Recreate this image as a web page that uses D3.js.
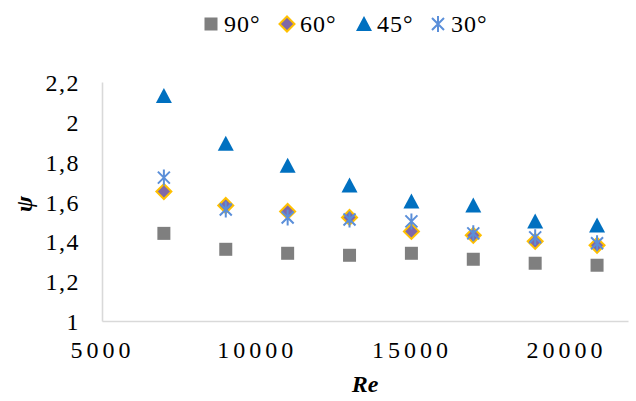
<!DOCTYPE html>
<html>
<head>
<meta charset="utf-8">
<script src="https://cdn.jsdelivr.net/npm/d3@7"></script>
<style>
  html, body { margin: 0; padding: 0; background: #fff; }
  svg { display: block; }
</style>
</head>
<body>
<svg id="chart" width="636" height="401"></svg>
<script>
// Reynolds numbers on the horizontal axis
const reValues = [7000, 9000, 11000, 13000, 15000, 17000, 19000, 21000];

// ψ for each inclination angle
const psi90 = [1.44, 1.36, 1.34, 1.33, 1.34, 1.31, 1.29, 1.28];
const psi60 = [1.65, 1.58, 1.55, 1.52, 1.45, 1.43, 1.40, 1.38];
const psi45 = [2.13, 1.89, 1.78, 1.68, 1.60, 1.58, 1.50, 1.48];
const psi30 = [1.72, 1.56, 1.52, 1.51, 1.50, 1.44, 1.42, 1.39];

const seriesNames = ["90°", "60°", "45°", "30°"];

// Axis ticks
const xTicks = [5000, 10000, 15000, 20000];
const yTicks = [1, 1.2, 1.4, 1.6, 1.8, 2, 2.2];

const series = [
  { name: seriesNames[0], values: psi90, shape: "square" },
  { name: seriesNames[1], values: psi60, shape: "diamond" },
  { name: seriesNames[2], values: psi45, shape: "triangle" },
  { name: seriesNames[3], values: psi30, shape: "star" }
];

const FONT = "'Liberation Serif', 'Times New Roman', Tinos, Times, serif";

const svg = d3.select("#chart");

const x = d3.scaleLinear().domain([5000, 22000]).range([102, 628]);
const y = d3.scaleLinear().domain([1, 2.2]).range([321, 82]);

const commaLocale = d3.formatLocale({ decimal: ",", thousands: "", grouping: [3], currency: ["", ""] });
const yFmt = commaLocale.format(".1~f");
const xFmt = d3.format("d");

// Axes
const xAxis = svg.append("g")
  .attr("transform", `translate(0,${y(1)})`)
  .call(d3.axisBottom(x).tickValues(xTicks).tickSize(0).tickPadding(0).tickFormat(xFmt));
xAxis.attr("font-family", null).attr("font-size", null);
xAxis.select(".domain").attr("stroke", "#d9d9d9").attr("stroke-width", 1.6);
xAxis.selectAll("text")
  .attr("dy", null)
  .attr("y", 37)
  .style("font-family", FONT)
  .style("font-size", "24px")
  .style("letter-spacing", "4px");

const yAxis = svg.append("g")
  .attr("transform", `translate(${x(5000)},0)`)
  .call(d3.axisLeft(y).tickValues(yTicks).tickSize(0).tickPadding(0).tickFormat(yFmt));
yAxis.attr("font-family", null).attr("font-size", null);
yAxis.select(".domain").attr("stroke", "#d9d9d9").attr("stroke-width", 1.6);
yAxis.selectAll("text")
  .attr("x", -22)
  .attr("dy", "0.36em")
  .style("font-family", FONT)
  .style("font-size", "24px")
  .style("letter-spacing", "1.5px");

// Axis titles
svg.append("text")
  .attr("transform", `translate(32,204) rotate(-90)`)
  .attr("text-anchor", "middle")
  .style("font-family", FONT)
  .style("font-size", "24px")
  .style("font-weight", "bold")
  .style("font-style", "italic")
  .text("ψ");

svg.append("text")
  .attr("x", (x(5000) + x(22000)) / 2)
  .attr("y", 392)
  .attr("text-anchor", "middle")
  .style("font-family", FONT)
  .style("font-size", "24px")
  .style("font-weight", "bold")
  .style("font-style", "italic")
  .text("Re");

// Marker drawing
function drawMarker(g, shape) {
  if (shape === "square") {
    g.append("rect").attr("x", -6.5).attr("y", -6.5).attr("width", 13).attr("height", 13)
      .attr("fill", "#7f7f7f");
  } else if (shape === "diamond") {
    g.append("path").attr("d", "M0,-7.5L7.5,0L0,7.5L-7.5,0Z")
      .attr("fill", "#8068a8").attr("stroke", "#ffc000").attr("stroke-width", 2);
  } else if (shape === "triangle") {
    g.append("path").attr("d", "M0,-8L8,7L-8,7Z")
      .attr("fill", "#0070c0");
  } else {
    g.append("path").attr("d", "M0,-8V8M-6,-6L6,6M6,-6L-6,6")
      .attr("stroke", "#5b8fd9").attr("stroke-width", 2).attr("fill", "none");
  }
}

// Points
series.forEach(s => {
  svg.append("g").selectAll("g")
    .data(s.values.map((v, i) => ({ re: reValues[i], psi: v })))
    .join("g")
    .attr("transform", d => `translate(${x(d.re)},${y(d.psi)})`)
    .each(function () { drawMarker(d3.select(this), s.shape); });
});

// Legend
const legendX = [211, 287, 364, 438];
series.forEach((s, i) => {
  const g = svg.append("g").attr("transform", `translate(${legendX[i]},24)`);
  drawMarker(g, s.shape);
  g.append("text")
    .attr("x", 13)
    .attr("y", 8)
    .style("font-family", FONT)
    .style("font-size", "24px")
    .style("letter-spacing", "1px")
    .text(s.name);
});
</script>
</body>
</html>
